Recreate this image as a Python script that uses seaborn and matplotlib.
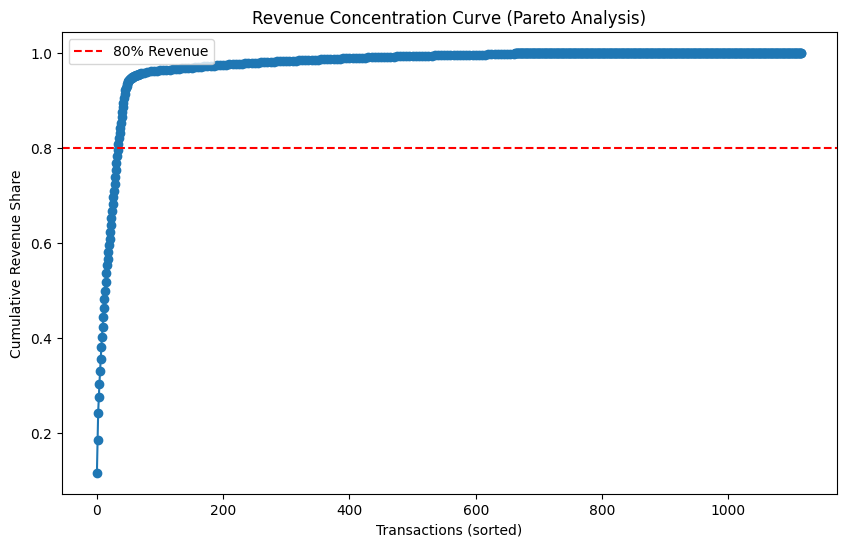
import matplotlib

matplotlib.use("Agg")
import matplotlib.pyplot as plt
import pandas as pd
import seaborn as sns

# Cumulative revenue share, one value per transaction for the steep head (ranks 0..69)
head_share = [
    0.116, 0.186, 0.244, 0.276, 0.305, 0.331, 0.356, 0.381, 0.403, 0.424,
    0.445, 0.464, 0.483, 0.500, 0.519, 0.537, 0.554, 0.568, 0.582, 0.596,
    0.610, 0.624, 0.639, 0.653, 0.668, 0.682, 0.697, 0.711, 0.726, 0.740,
    0.755, 0.769, 0.783, 0.797, 0.810, 0.821, 0.832, 0.843, 0.854, 0.865,
    0.876, 0.887, 0.896, 0.905, 0.914, 0.922, 0.928, 0.932, 0.936, 0.939,
    0.942, 0.944, 0.946, 0.947, 0.948, 0.949, 0.950, 0.951, 0.952, 0.952,
    0.953, 0.953, 0.954, 0.954, 0.955, 0.955, 0.956, 0.956, 0.957, 0.957,
]

# Slowly rising tail, read every 5 transactions (ranks 70..660)
tail_rank = list(range(70, 661, 5))
tail_share = [
    # 70 .. 160
    0.9580, 0.9595, 0.9610, 0.9618, 0.9626, 0.9633, 0.9640, 0.9646, 0.9652, 0.9658,
    0.9664, 0.9670, 0.9676, 0.9682, 0.9688, 0.9694, 0.9700, 0.9706, 0.9712,
    # 165 .. 255
    0.9718, 0.9724, 0.9730, 0.9736, 0.9742, 0.9748, 0.9754, 0.9760, 0.9764, 0.9768,
    0.9772, 0.9776, 0.9780, 0.9784, 0.9788, 0.9792, 0.9796, 0.9800, 0.9804,
    # 260 .. 350
    0.9808, 0.9812, 0.9816, 0.9820, 0.9824, 0.9828, 0.9832, 0.9836, 0.9840, 0.9843,
    0.9846, 0.9849, 0.9852, 0.9855, 0.9858, 0.9861, 0.9864, 0.9867, 0.9870,
    # 355 .. 445
    0.9873, 0.9876, 0.9879, 0.9882, 0.9885, 0.9888, 0.9891, 0.9894, 0.9897, 0.9900,
    0.9902, 0.9905, 0.9907, 0.9910, 0.9912, 0.9915, 0.9917, 0.9920, 0.9922,
    # 450 .. 540
    0.9925, 0.9927, 0.9929, 0.9931, 0.9933, 0.9935, 0.9937, 0.9939, 0.9941, 0.9943,
    0.9945, 0.9946, 0.9948, 0.9949, 0.9951, 0.9952, 0.9954, 0.9955, 0.9957,
    # 545 .. 635
    0.9958, 0.9960, 0.9961, 0.9962, 0.9963, 0.9965, 0.9966, 0.9967, 0.9968, 0.9969,
    0.9971, 0.9972, 0.9973, 0.9974, 0.9975, 0.9976, 0.9977, 0.9978, 0.9979,
    # 640 .. 660
    0.9980, 0.9982, 0.9983, 0.9984, 0.9985,
]

# From rank 663 to the last transaction (1116) the share sits at 100%
flat_rank = list(range(663, 1117))
flat_share = [1.0] * len(flat_rank)

threshold = 0.8
threshold_label = "80% Revenue"

df = pd.DataFrame(
    {
        "rank": list(range(len(head_share))) + tail_rank + flat_rank,
        "share": head_share + tail_share + flat_share,
    }
)

fig = plt.figure(figsize=(8.46, 5.47), dpi=100)
ax = fig.add_axes([0.0729, 0.0963, 0.9161, 0.8446])

sns.lineplot(
    data=df,
    x="rank",
    y="share",
    marker="o",
    color="#1f77b4",
    markeredgecolor="#1f77b4",
    markeredgewidth=1.0,
    markersize=6,
    linewidth=1.5,
    errorbar=None,
    ax=ax,
)

ax.axhline(threshold, color="red", linestyle="--", label=threshold_label)

ax.set_title("Revenue Concentration Curve (Pareto Analysis)")
ax.set_xlabel("Transactions (sorted)")
ax.set_ylabel("Cumulative Revenue Share")
ax.legend(loc="upper left")

fig.savefig("out.png", dpi=100)
